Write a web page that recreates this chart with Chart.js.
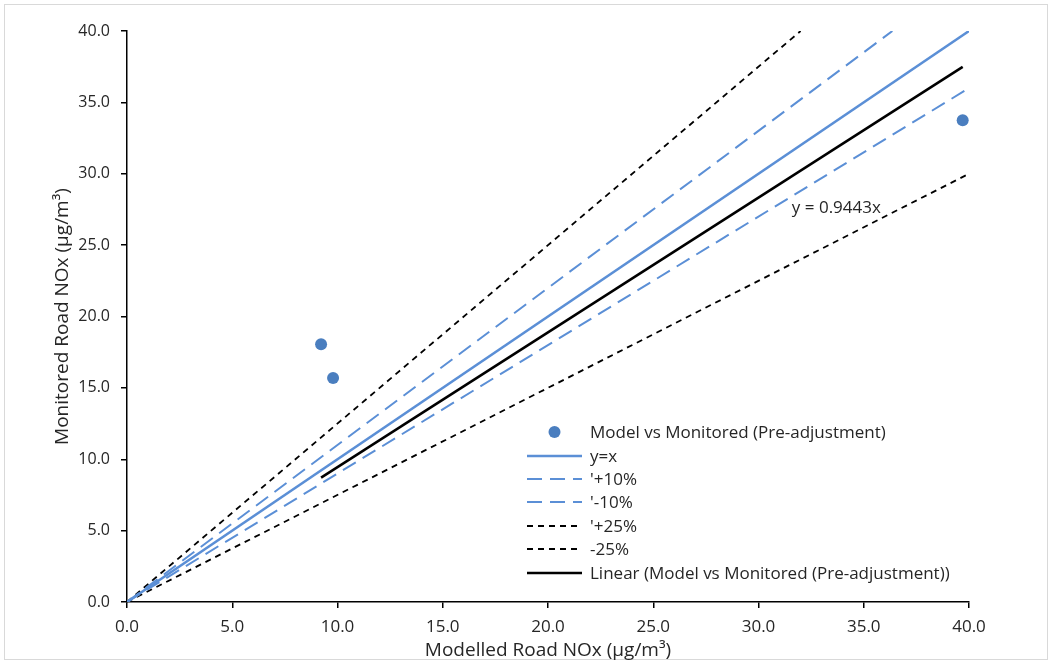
<!DOCTYPE html>
<html><head><meta charset="utf-8">
<script src="https://cdn.jsdelivr.net/npm/chart.js@4.4.0/dist/chart.umd.min.js"></script>
<style>html,body{margin:0;padding:0;background:#fff;}#wrap{position:relative;width:1051px;height:662px;}</style>
</head><body><div id="wrap"><canvas id="c" width="1051" height="662"></canvas></div>
<script>
// Data
const modelled = [9.22, 9.79, 39.7];
const monitored = [18.05, 15.7, 33.75];
const lineYX = [{x:0,y:0},{x:40,y:40}];
const linePlus10 = [{x:0,y:0},{x:36.36,y:40}];
const lineMinus10 = [{x:0,y:0},{x:40,y:36}];
const linePlus25 = [{x:0,y:0},{x:32,y:40}];
const lineMinus25 = [{x:0,y:0},{x:40,y:30}];
const trendLine = [{x:9.22,y:8.71},{x:39.7,y:37.49}];
const trendLabel = {text:'y = 0.9443x', x:33.7, y:27.6};
const seriesNames = ['Model vs Monitored (Pre-adjustment)','y=x',"'+10%","'-10%","'+25%",'-25%','Linear (Model vs Monitored (Pre-adjustment))'];
const tickValues = [0,5,10,15,20,25,30,35,40];

const BLUE_PT = '#4a7ebf';
const BLUE_LN = '#5b8fd6';
const FONT = '"Open Sans", sans-serif';

const datasets = [
  {label:seriesNames[0], data: modelled.map((x,i)=>({x, y: monitored[i]})), showLine:false, pointRadius:6, pointHoverRadius:6, backgroundColor:BLUE_PT, borderColor:BLUE_PT, borderWidth:0, order:0},
  {label:seriesNames[1], data:lineYX, showLine:true, pointRadius:0, borderColor:BLUE_LN, borderWidth:2.5, order:2},
  {label:seriesNames[2], data:linePlus10, showLine:true, pointRadius:0, borderColor:BLUE_LN, borderWidth:2, borderDash:[15,8], order:3},
  {label:seriesNames[3], data:lineMinus10, showLine:true, pointRadius:0, borderColor:BLUE_LN, borderWidth:2, borderDash:[15,8], order:4},
  {label:seriesNames[4], data:linePlus25, showLine:true, pointRadius:0, borderColor:'#000', borderWidth:1.8, borderDash:[6,5], order:5},
  {label:seriesNames[5], data:lineMinus25, showLine:true, pointRadius:0, borderColor:'#000', borderWidth:1.8, borderDash:[6,5], order:6},
  {label:seriesNames[6], data:trendLine, showLine:true, pointRadius:0, borderColor:'#000', borderWidth:2.5, order:1}
];

const framePlugin = {
  id:'frame',
  beforeDraw(chart){
    const ctx = chart.ctx; ctx.save();
    ctx.fillStyle='#fff'; ctx.fillRect(0,0,chart.width,chart.height);
    ctx.strokeStyle='#d9d9d9'; ctx.lineWidth=1;
    ctx.strokeRect(4.5,4.5,chart.width-8,chart.height-7);
    ctx.restore();
  }
};

const legendPlugin = {
  id:'innerLegend',
  afterDraw(chart){
    const ctx = chart.ctx; ctx.save();
    const x0 = 527, x1 = 582, tx = 590;
    const ys = [432,456,479,502,526,549,573];
    ctx.font = '17px ' + FONT;
    ctx.textBaseline='middle';
    chart.data.datasets.forEach((ds,i)=>{
      const y = ys[i];
      if(!ds.showLine){
        ctx.beginPath(); ctx.fillStyle=ds.backgroundColor; ctx.arc((x0+x1)/2, y, 6, 0, Math.PI*2); ctx.fill();
      } else {
        ctx.beginPath(); ctx.strokeStyle=ds.borderColor; ctx.lineWidth=ds.borderWidth;
        ctx.setLineDash(ds.borderDash||[]); ctx.moveTo(x0,y); ctx.lineTo(x1,y); ctx.stroke(); ctx.setLineDash([]);
      }
      ctx.fillStyle='#262626';
      ctx.fillText(ds.label, tx, y+1);
    });
    const xs = chart.scales.x, yS = chart.scales.y;
    ctx.textAlign='center';
    ctx.fillText(trendLabel.text, xs.getPixelForValue(trendLabel.x), yS.getPixelForValue(trendLabel.y));
    ctx.restore();
  }
};

new Chart(document.getElementById('c'), {
  type:'scatter',
  data:{datasets},
  options:{
    responsive:false, animation:false, devicePixelRatio:1,
    layout:{padding:{top:31,right:82,left:44,bottom:0}},
    plugins:{legend:{display:false}, tooltip:{enabled:false}},
    scales:{
      x:{type:'linear', min:0, max:40,
        afterBuildTicks(s){ s.ticks = tickValues.map(v=>({value:v})); },
        afterFit(s){ s.height = 60; },
        grid:{display:true, drawOnChartArea:false, drawTicks:true, tickLength:6, color:'#000', lineWidth:1.5},
        border:{display:true, color:'#000', width:1.5},
        ticks:{font:{family:FONT, size:17}, color:'#262626', padding:9, maxRotation:0, callback:v=>Number(v).toFixed(1)},
        title:{display:true, text:'Modelled Road NOx (µg/m³)', font:{family:FONT, size:19}, color:'#262626', padding:{top:0,bottom:0}}
      },
      y:{type:'linear', min:0, max:40,
        afterBuildTicks(s){ s.ticks = tickValues.map(v=>({value:v})); },
        afterFit(s){ s.width = 83; },
        grid:{display:true, drawOnChartArea:false, drawTicks:true, tickLength:6, color:'#000', lineWidth:1.5},
        border:{display:true, color:'#000', width:1.5},
        ticks:{font:{family:FONT, size:16}, color:'#262626', padding:11, callback:v=>Number(v).toFixed(1)},
        title:{display:true, text:'Monitored Road NOx (µg/m³)', font:{family:FONT, size:19}, color:'#262626', padding:{top:7,bottom:0}}
      }
    }
  },
  plugins:[framePlugin, legendPlugin]
});
</script></body></html>
